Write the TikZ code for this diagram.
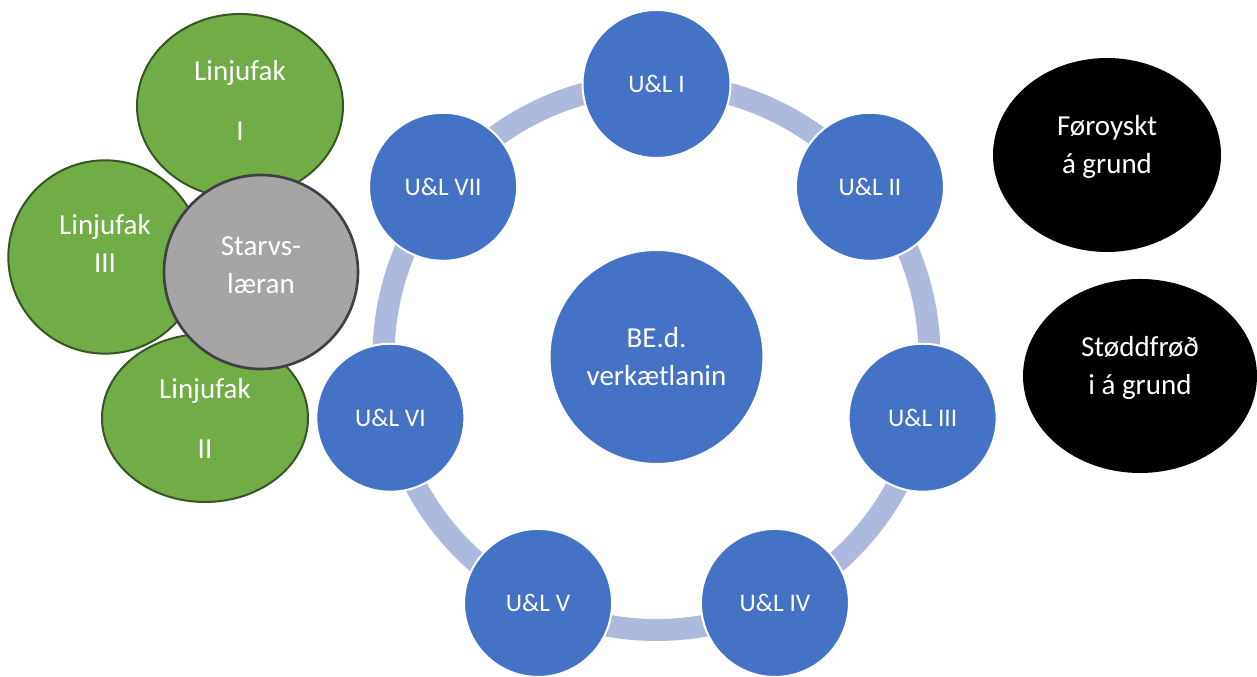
\documentclass[tikz,border=0pt]{standalone}
\usepackage{fontspec}
\setmainfont{Carlito}
\usetikzlibrary{shapes.geometric,calc}
\definecolor{ulblue}{HTML}{4472C4}
\definecolor{ringblue}{HTML}{AEBADD}
\definecolor{fakgreen}{HTML}{70AD47}
\definecolor{fakline}{HTML}{375623}
\definecolor{starvgray}{HTML}{A5A5A5}
\definecolor{starvline}{HTML}{404040}
\newcommand\nodefont{\fontsize{21.75pt}{28.5pt}\selectfont}
\newcommand\ulfont{\fontsize{19pt}{24pt}\selectfont}
\tikzset{
  ul/.style={circle,fill=ulblue,draw=white,line width=1.5pt,minimum size=111pt,inner sep=0,text=white,font=\ulfont},
  main ul/.style={ul,minimum size=160.5pt,font=\nodefont,align=center},
  linjufak/.style={ellipse,fill=fakgreen,draw=fakline,line width=1.5pt,inner sep=0},
  starv/.style={circle,fill=starvgray,draw=starvline,line width=2pt,minimum size=145.5pt,inner sep=0},
  grund/.style={ellipse,fill=black,inner sep=0},
  txt/.style={text=white,font=\nodefont,align=center},
  ring/.style={draw=ringblue,line width=16.5pt}
}

\begin{document}
\begin{tikzpicture}[x=0.75pt,y=0.75pt]
  \useasboundingbox (0,0) rectangle (1257,677);
  % Cycle: ring, centre and the seven U&L circles
  \coordinate (C) at (656.5,320);
  \draw[ring] (C) circle[radius=273];
  \node[main ul] (BE) at (C) {BE.d.\\verkætlanin};
  \foreach \i/\t in {1/I,2/II,3/III,4/IV,5/V,6/VI,7/VII}
    \node[ul] (U\i) at ($(C)+({90-(\i-1)*360/7}:273)$) {U\&L \t};
  % Linjufak around Starvslæran
  \node[linjufak,minimum width=154.5pt,minimum height=138pt] (L1) at (240,571) {};
  \node[linjufak,minimum width=145pt,minimum height=145pt] (L3) at (105,420) {};
  \node[linjufak,minimum width=154.5pt,minimum height=126pt] (L2) at (205,259) {};
  \node[starv] (S) at (261,405) {};
  % Black ovals
  \node[grund,minimum width=171pt,minimum height=145.5pt] (F) at (1107,522) {};
  \node[grund,minimum width=175.5pt,minimum height=145.5pt] (G) at (1140,301) {};
  % Labels
  \node[txt] (L1-t) at ([yshift=4pt]L1) {Linjufak\\[16.5pt]I};
  \node[txt] (L3-t) at ([yshift=10pt]L3) {Linjufak\\III};
  \node[txt] (L2-t) at (L2) {Linjufak\\[16.5pt]II};
  \node[txt] (S-t) at ([yshift=5pt]S) {Starvs-\\læran};
  \node[txt] (F-t) at ([yshift=6pt]F) {Føroyskt\\á grund};
  \node[txt] (G-t) at ([yshift=6pt]G) {Støddfrøð\\i á grund};
\end{tikzpicture}
\end{document}
